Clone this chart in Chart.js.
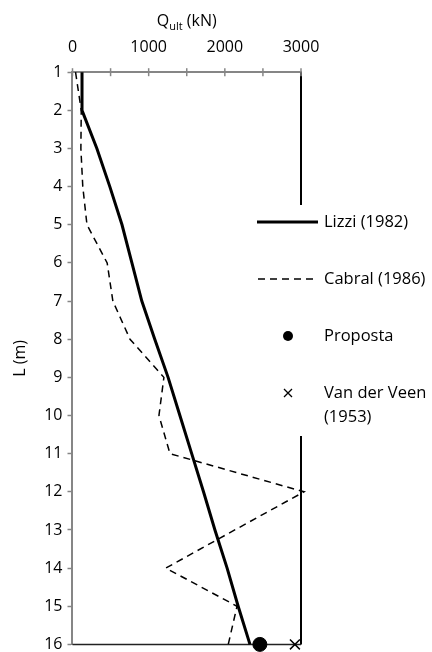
<!DOCTYPE html>
<html>
<head>
<meta charset="utf-8">
<script src="https://cdn.jsdelivr.net/npm/chart.js@4"></script>
<style>
  html, body { margin: 0; background: #fff; overflow: hidden; }
  #wrap { width: 432px; height: 659px; position: relative; }
</style>
</head>
<body>
<div id="wrap"><canvas id="myChart"></canvas></div>
<script>
// depth L (m)
var depth = [1, 2, 3, 4, 5, 6, 7, 8, 9, 10, 11, 12, 13, 14, 15, 16];
// Q ult (kN)
var lizzi = [125, 125, 320, 490, 650, 780, 910, 1080, 1255, 1410, 1565, 1720, 1870, 2030, 2175, 2330];
var cabral = [40, 115, 110, 135, 190, 455, 530, 755, 1200, 1135, 1280, 3040, 2130, 1225, 2160, 2045];
var propostaX = [2460];
var propostaL = [16];
var veenX = [2920];
var veenL = [16];
var xTicks = [0, 1000, 2000, 3000];

var seriesNames = ["Lizzi (1982)", "Cabral (1986)", "Proposta", "Van der Veen (1953)"];

var font = "'Open Sans', sans-serif";
var grey = "#868686";

function pts(xs, ls) {
  return xs.map(function (v, k) { return { x: v, y: ls[k] }; });
}

var frame = {
  id: "frame",
  beforeDatasetsDraw: function (chart) {
    var ctx = chart.ctx, a = chart.chartArea, x = chart.scales.x;
    ctx.save();
    // black right + bottom lines
    ctx.strokeStyle = "#000";
    ctx.lineWidth = 2;
    ctx.beginPath();
    ctx.moveTo(a.right, a.top);
    ctx.lineTo(a.right, a.bottom);
    ctx.stroke();
    ctx.strokeStyle = "#222";
    ctx.lineWidth = 1.5;
    ctx.beginPath();
    ctx.moveTo(a.left, a.bottom);
    ctx.lineTo(a.right, a.bottom);
    ctx.stroke();
    // crossing ticks on top axis
    ctx.strokeStyle = grey;
    ctx.lineWidth = 1.5;
    for (var v = 0; v <= 3000; v += 500) {
      var px = x.getPixelForValue(v);
      ctx.beginPath();
      ctx.moveTo(px, a.top - 4);
      ctx.lineTo(px, a.top + 4);
      ctx.stroke();
    }
    ctx.restore();
  },
  afterDraw: function (chart) {
    var ctx = chart.ctx, a = chart.chartArea;
    ctx.save();
    // axis title with subscript
    ctx.fillStyle = "#000";
    ctx.textBaseline = "alphabetic";
    ctx.font = "16px " + font;
    var cx = (a.left + a.right) / 2;
    var w1 = ctx.measureText("Q").width;
    ctx.font = "11px " + font;
    var w2 = ctx.measureText("ult").width;
    ctx.font = "16px " + font;
    var w3 = ctx.measureText(" (kN)").width;
    var sx = cx - (w1 + w2 + w3) / 2;
    ctx.textAlign = "left";
    ctx.fillText("Q", sx, 26);
    ctx.font = "11px " + font;
    ctx.fillText("ult", sx + w1, 30);
    ctx.font = "16px " + font;
    ctx.fillText(" (kN)", sx + w1 + w2, 26);

    // legend box
    ctx.fillStyle = "#fff";
    ctx.fillRect(252, 205, 180, 231);
    var lx1 = 257, lx2 = 318, tx = 324;
    var rows = [222, 279, 336, 393];
    ctx.strokeStyle = "#000";
    ctx.fillStyle = "#000";
    ctx.lineWidth = 3;
    ctx.beginPath(); ctx.moveTo(lx1, rows[0]); ctx.lineTo(lx2, rows[0]); ctx.stroke();
    ctx.lineWidth = 1.5;
    ctx.setLineDash([7, 5]);
    ctx.beginPath(); ctx.moveTo(lx1 + 1, rows[1]); ctx.lineTo(lx2, rows[1]); ctx.stroke();
    ctx.setLineDash([]);
    ctx.beginPath(); ctx.arc(288, rows[2], 5, 0, Math.PI * 2); ctx.fill();
    ctx.lineWidth = 1.3;
    ctx.beginPath();
    ctx.moveTo(284, rows[3] - 4); ctx.lineTo(292, rows[3] + 4);
    ctx.moveTo(292, rows[3] - 4); ctx.lineTo(284, rows[3] + 4);
    ctx.stroke();
    ctx.font = "16.5px " + font;
    ctx.textBaseline = "middle";
    ctx.fillText(seriesNames[0], tx, rows[0]);
    ctx.fillText(seriesNames[1], tx, rows[1]);
    ctx.fillText(seriesNames[2], tx, rows[2]);
    ctx.fillText("Van der Veen", tx, rows[3]);
    ctx.fillText("(1953)", tx, rows[3] + 24);
    ctx.restore();
  }
};

new Chart("myChart", {
  type: "scatter",
  data: {
    datasets: [{
      label: seriesNames[0],
      data: pts(lizzi, depth),
      showLine: true,
      borderColor: "#000",
      borderWidth: 3,
      pointRadius: 0,
      clip: false
    }, {
      label: seriesNames[1],
      data: pts(cabral, depth),
      showLine: true,
      borderColor: "#000",
      borderWidth: 1.5,
      borderDash: [7, 5],
      pointRadius: 0,
      clip: false
    }, {
      label: seriesNames[2],
      data: pts(propostaX, propostaL),
      pointStyle: "circle",
      pointRadius: 7,
      backgroundColor: "#000",
      borderColor: "#000",
      clip: false
    }, {
      label: seriesNames[3],
      data: pts(veenX, veenL),
      pointStyle: "crossRot",
      pointRadius: 7,
      borderWidth: 1.5,
      borderColor: "#000",
      clip: false
    }]
  },
  options: {
    responsive: true,
    maintainAspectRatio: false,
    animation: false,
    layout: { autoPadding: false, padding: { top: 23, right: 131, bottom: 2, left: 11 } },
    plugins: {
      legend: { display: false },
      tooltip: { enabled: false }
    },
    scales: {
      x: {
        position: "top",
        min: 0,
        max: 3000,
        afterBuildTicks: function (s) { s.ticks = xTicks.map(function (v) { return { value: v }; }); },
        ticks: {
          color: "#000", font: { family: font, size: 16 }, padding: 15, maxRotation: 0,
          callback: function (v) { return String(v); }
        },
        grid: { drawOnChartArea: false, drawTicks: false },
        border: { color: grey, width: 2 }
      },
      y: {
        reverse: true,
        min: 1,
        max: 16,
        ticks: { stepSize: 1, color: "#000", font: { family: font, size: 16 }, padding: 5 },
        grid: { drawOnChartArea: false, tickLength: 5, color: grey, tickWidth: 1.5 },
        border: { color: grey, width: 2 },
        title: { display: true, text: "L (m)", color: "#000", font: { family: font, size: 16 }, padding: { top: 0, bottom: 9 } }
      }
    }
  },
  plugins: [frame]
});
</script>
</body>
</html>
